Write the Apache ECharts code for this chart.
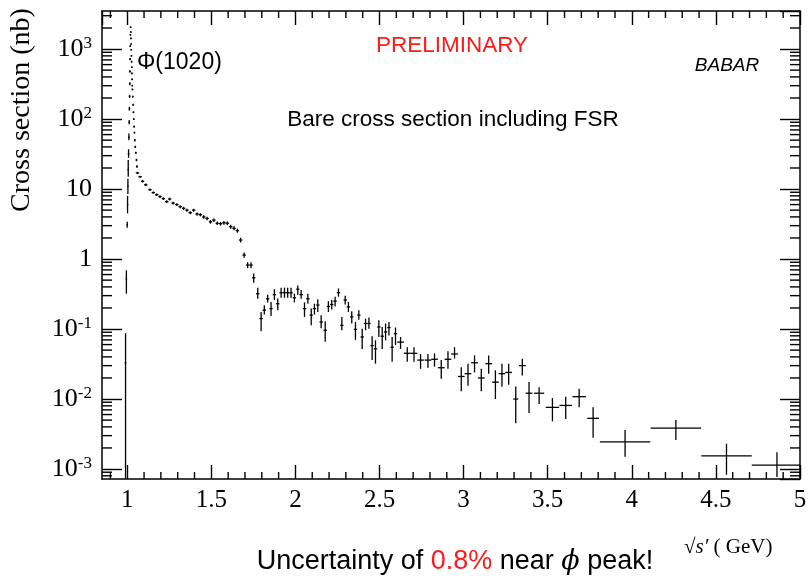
<!DOCTYPE html>
<html><head><meta charset="utf-8">
<script src="https://cdn.jsdelivr.net/npm/echarts@6/dist/echarts.min.js"></script>
<style>html,body{margin:0;padding:0;background:#fff}#c{width:810px;height:578px}</style>
</head><body><div id="c"></div><script>
// ---- data ----
// phi(1020) region
const phiEnergy = [0.990,0.995,1.000,1.002,1.004,1.006,1.008,1.010,1.012,1.013,1.014,1.015,1.016,1.017,1.018,1.019,1.020,1.021,1.022,1.023,1.024,1.025,1.026,1.027,1.028,1.029,1.030,1.031,1.033,1.035,1.037,1.039,1.041,1.043,1.045,1.048,1.051,1.055,1.058];
const phiHalfWidth = [0.002,0.002,0.001,0.001,0.001,0.001,0.001,0.001,0.001,0.001,0.001,0.001,0.001,0.001,0.001,0.001,0.001,0.001,0.001,0.001,0.001,0.001,0.001,0.001,0.001,0.001,0.001,0.001,0.001,0.001,0.001,0.001,0.001,0.001,0.001,0.001,0.001,0.001,0.001];
const phiSigma = [0.033,0.52,3.1,6,11,19,32,55,90,140,210,320,480,720,1100,1600,2050,1750,1420,1180,980,800,660,550,450,370,300,265,210,160,125,100,78,64,50,40,33,26,21];
const phiSigmaLo = [0.000001,0.32,2.8,4.5,8.5,15,28,50,84,132,200,305,460,695,1070,1560,2000,1710,1390,1150,955,780,640,535,437,360,291,257,204,155,121,97,75,62,48,38.5,32,25,20.2];
const phiSigmaHi = [0.087,0.69,3.4,8,14,26,37,62,97,150,222,335,500,745,1130,1640,2100,1790,1450,1210,1005,820,680,565,463,380,309,273,216,165,129,103,81,66,52,41.5,34,27,21.8];

// continuum region
const energy = [1.061,1.077,1.091,1.110,1.135,1.155,1.175,1.195,1.215,1.235,1.252,1.273,1.295,1.315,1.335,1.355,1.375,1.395,1.415,1.435,1.455,1.475,1.495,1.515,1.535,1.555,1.575,1.595,1.615,1.635,1.655,1.674,1.695,1.716,1.736,
 1.752,1.776,1.796,1.815,1.835,1.855,1.875,1.895,1.915,1.935,1.954,1.974,1.994,2.014,2.034,2.054,2.074,2.094,2.113,2.133,2.153,2.177,2.196,2.216,2.236,2.256,2.276,2.296,2.315,2.335,2.357,2.377,2.397,2.417,2.437,2.456,2.476,2.496,2.516,2.536,2.556,2.575,2.595,
 2.625,2.665,2.705,2.744,2.788,2.827,2.867,2.907,2.946,2.986,3.026,3.065,3.105,3.149,3.189,3.228,3.268,3.310,3.349,
 3.389,3.449,3.528,3.607,3.687,3.770,3.960,4.262,4.563,4.863];
const halfWidth = [0.01,0.01,0.01,0.01,0.01,0.01,0.01,0.01,0.01,0.01,0.01,0.01,0.01,0.01,0.01,0.01,0.01,0.01,0.01,0.01,0.01,0.01,0.01,0.01,0.01,0.01,0.01,0.01,0.01,0.01,0.01,0.01,0.01,0.01,0.01,
 0.01,0.01,0.01,0.01,0.01,0.01,0.01,0.01,0.01,0.01,0.01,0.01,0.01,0.01,0.01,0.01,0.01,0.01,0.01,0.01,0.01,0.01,0.01,0.01,0.01,0.01,0.01,0.01,0.01,0.01,0.01,0.01,0.01,0.01,0.01,0.01,0.01,0.01,0.01,0.01,0.01,0.01,0.01,
 0.02,0.02,0.02,0.02,0.02,0.02,0.02,0.02,0.02,0.02,0.02,0.02,0.02,0.02,0.02,0.02,0.02,0.015,0.02,
 0.02,0.03,0.04,0.037,0.04,0.035,0.15,0.15,0.15,0.15];
const sigma = [17,15,12.9,11.5,9.8,8.9,8.3,7.8,7.3,6.6,7.2,6.3,6.0,5.6,5.3,5.0,4.6,5.0,4.4,4.3,4.0,3.8,3.4,3.6,3.25,3.2,3.3,3.25,2.9,2.75,2.55,1.87,1.14,0.82,0.82,
 0.54,0.32,0.141,0.186,0.27,0.196,0.31,0.23,0.33,0.33,0.33,0.33,0.28,0.37,0.31,0.196,0.27,0.158,0.196,0.22,0.126,0.096,0.21,0.224,0.25,0.33,0.113,0.26,0.207,0.149,0.099,0.158,0.077,0.12,0.12,0.058,0.052,0.107,0.079,0.091,0.105,0.055,0.086,
 0.065,0.045,0.045,0.036,0.036,0.037,0.028,0.037,0.044,0.021,0.023,0.033,0.020,0.032,0.0174,0.023,0.024,0.010,0.030,
 0.0121,0.0121,0.0076,0.0081,0.0108,0.0053,0.00245,0.00385,0.00154,0.00114];
const sigmaLo = [16.4,14.5,12.4,11.0,9.4,8.55,7.95,7.45,6.98,6.3,6.87,6.0,5.72,5.33,5.04,4.75,4.37,4.75,4.17,4.07,3.78,3.59,3.2,3.39,3.06,3.01,3.1,3.05,2.72,2.57,2.38,1.73,1.04,0.74,0.74,
 0.46,0.27,0.093,0.161,0.24,0.154,0.26,0.186,0.28,0.28,0.28,0.28,0.24,0.31,0.27,0.149,0.23,0.113,0.161,0.175,0.103,0.066,0.175,0.19,0.21,0.29,0.096,0.224,0.175,0.12,0.07,0.136,0.052,0.096,0.101,0.036,0.032,0.077,0.052,0.069,0.081,0.034,0.059,
 0.052,0.034,0.034,0.027,0.028,0.029,0.0195,0.027,0.038,0.0129,0.0155,0.024,0.0129,0.023,0.0100,0.015,0.016,0.0045,0.0217,
 0.0063,0.0085,0.0048,0.0052,0.0076,0.0028,0.0015,0.0026,0.00083,0.00077];
const sigmaHi = [17.6,15.5,13.4,12.0,10.2,9.25,8.65,8.15,7.62,6.9,7.53,6.6,6.28,5.87,5.56,5.25,4.83,5.25,4.63,4.53,4.22,4.01,3.6,3.81,3.44,3.39,3.5,3.45,3.08,2.93,2.72,2.01,1.24,0.9,0.9,
 0.62,0.39,0.175,0.219,0.31,0.244,0.37,0.273,0.39,0.39,0.39,0.39,0.32,0.42,0.36,0.24,0.32,0.196,0.23,0.267,0.158,0.129,0.25,0.26,0.29,0.38,0.149,0.30,0.244,0.18,0.126,0.186,0.101,0.141,0.146,0.079,0.069,0.133,0.107,0.12,0.126,0.077,0.105,
 0.077,0.055,0.055,0.044,0.044,0.045,0.036,0.048,0.055,0.0285,0.032,0.042,0.027,0.042,0.0257,0.032,0.032,0.0151,0.0376,
 0.0175,0.0147,0.0103,0.0108,0.0140,0.0076,0.0036,0.0050,0.0023,0.00173];

// axes
const xMin = 0.85, xMax = 5.0;
const yMin = 0.00072, yMax = 3500;
const xTickLabels = ['1','1.5','2','2.5','3','3.5','4','4.5','5'];
const xMinorTicks = [0.9,1.1,1.2,1.3,1.4,1.6,1.7,1.8,1.9,2.1,2.2,2.3,2.4,2.6,2.7,2.8,2.9,3.1,3.2,3.3,3.4,3.6,3.7,3.8,3.9,4.1,4.2,4.3,4.4,4.6,4.7,4.8,4.9];
const yMinorTicks = [0.0008,0.0009,0.002,0.003,0.004,0.005,0.006,0.007,0.008,0.009,0.02,0.03,0.04,0.05,0.06,0.07,0.08,0.09,0.2,0.3,0.4,0.5,0.6,0.7,0.8,0.9,2,3,4,5,6,7,8,9,20,30,40,50,60,70,80,90,200,300,400,500,600,700,800,900,2000,3000];

// ---- chart ----
const points = phiEnergy.map((e,i)=>[e, phiSigma[i], e-phiHalfWidth[i], e+phiHalfWidth[i], phiSigmaLo[i], phiSigmaHi[i]])
  .concat(energy.map((e,i)=>[e, sigma[i], e-halfWidth[i], e+halfWidth[i], sigmaLo[i], sigmaHi[i]]));

const chart = echarts.init(document.getElementById('c'), null, {renderer:'canvas'});
const serif = '"Liberation Serif", "Times New Roman", serif';
const sans = '"Liberation Sans", Arial, sans-serif';
const LW = 1.4;
function ln(x1,y1,x2,y2,w){return {type:'line',shape:{x1,y1,x2,y2},style:{stroke:'#000',lineWidth:w||LW}};}

function yLabel(v){
  const l = Math.log10(v), e = Math.round(l);
  if (Math.abs(l-e) > 1e-6) return '';
  if (e === 0) return '1';
  if (e === 1) return '10';
  return '{b|10}{s|' + e + '}';
}
const axisCommon = {
  axisLine:{show:true, onZero:false, lineStyle:{color:'#000', width:1.5}},
  splitLine:{show:false}
};

chart.setOption({
  animation:false,
  backgroundColor:'#fff',
  grid:{left:102, top:11, width:698, height:468, containLabel:false},
  xAxis:[
    Object.assign({type:'value', min:xMin, max:xMax, splitNumber:8, position:'bottom',
      axisTick:{show:true, inside:true, length:14, lineStyle:{color:'#000', width:LW}},
      axisLabel:{show:true, margin:9, color:'#000', fontFamily:serif, fontSize:25, showMinLabel:false, showMaxLabel:true,
        formatter:(v)=>{const s = String(Math.round(v*10)/10); return xTickLabels.indexOf(s)>=0 ? s : '';}}}, axisCommon),
    Object.assign({type:'value', min:xMin, max:xMax, splitNumber:8, position:'top',
      axisTick:{show:true, inside:true, length:14, lineStyle:{color:'#000', width:LW}},
      axisLabel:{show:false}}, axisCommon)
  ],
  yAxis:[
    Object.assign({type:'log', logBase:10, min:yMin, max:yMax, position:'left',
      axisTick:{show:true, inside:true, length:20, lineStyle:{color:'#000', width:LW}},
      axisLabel:{show:true, margin:10, color:'#000', fontFamily:serif, fontSize:26, showMinLabel:false, showMaxLabel:false,
        formatter:yLabel,
        rich:{b:{fontFamily:serif, fontSize:26, color:'#000', lineHeight:28},
              s:{fontFamily:serif, fontSize:17, color:'#000', lineHeight:17, verticalAlign:'top'}}}}, axisCommon),
    Object.assign({type:'log', logBase:10, min:yMin, max:yMax, position:'right',
      axisTick:{show:true, inside:true, length:20, lineStyle:{color:'#000', width:LW}},
      axisLabel:{show:false}}, axisCommon)
  ],
  series:[
    {type:'custom', name:'xminor', silent:true, xAxisIndex:0, yAxisIndex:0,
      data:xMinorTicks.map(v=>[v,1]),
      renderItem:(params, api)=>{
        const cs = params.coordSys; const px = api.coord([api.value(0),1])[0];
        const b = cs.y+cs.height, t = cs.y;
        return {type:'group', children:[ln(px,b,px,b-7), ln(px,t,px,t+7)]};
      }},
    {type:'custom', name:'yminor', silent:true, xAxisIndex:0, yAxisIndex:0,
      data:yMinorTicks.map(v=>[1,v]),
      renderItem:(params, api)=>{
        const cs = params.coordSys; const py = api.coord([1, api.value(1)])[1];
        const l = cs.x, r = cs.x+cs.width;
        return {type:'group', children:[ln(l,py,l+10,py), ln(r,py,r-10,py)]};
      }},
    {type:'custom', name:'data', silent:true, clip:true, xAxisIndex:0, yAxisIndex:0,
      data:points,
      encode:{x:[0,2,3], y:[1,4,5]},
      renderItem:(params, api)=>{
        const x = api.value(0), y = api.value(1);
        const c = api.coord([x,y]);
        let xl = api.coord([api.value(2),y])[0], xr = api.coord([api.value(3),y])[0];
        let yb = api.coord([x,api.value(4)])[1], yt = api.coord([x,api.value(5)])[1];
        if (xr - xl < 1.6) { xl = c[0]-0.8; xr = c[0]+0.8; }
        if (yb - yt < 1.6) { yb = c[1]+0.8; yt = c[1]-0.8; }
        return {type:'group', children:[ln(xl,c[1],xr,c[1],1.3), ln(c[0],yb,c[0],yt,1.3)]};
      }}
  ],
  graphic:[
    {type:'text', x:22, y:110, rotation:Math.PI/2, style:{text:'Cross section (nb)', font:'28px ' + serif, fill:'#000', align:'center', verticalAlign:'middle'}},
    {type:'text', x:452, y:46, style:{text:'PRELIMINARY', font:'22.5px ' + sans, fill:'#ff1a1a', align:'center', verticalAlign:'middle'}},
    {type:'text', x:727, y:66, style:{text:'BABAR', font:'italic 19px ' + sans, fill:'#000', align:'center', verticalAlign:'middle'}},
    {type:'text', x:137, y:63, style:{text:'Φ(1020)', font:'23px ' + sans, fill:'#000', align:'left', verticalAlign:'middle'}},
    {type:'text', x:453, y:120, style:{text:'Bare cross section including FSR', font:'22.5px ' + sans, fill:'#000', align:'center', verticalAlign:'middle'}},
    {type:'text', x:684, y:547, style:{text:'{r|√}{i|s′}{r| ( GeV)}', align:'left', verticalAlign:'middle',
      rich:{r:{font:'21px ' + serif, fill:'#000'}, i:{font:'italic 21px ' + serif, fill:'#000'}}}},
    {type:'text', x:455, y:562, style:{text:'{a|Uncertainty of }{red|0.8%}{a| near }{phi|ϕ}{a| peak!}', align:'center', verticalAlign:'middle',
      rich:{a:{font:'27px ' + sans, fill:'#000'}, red:{font:'27px ' + sans, fill:'#ff1a1a'}, phi:{font:'italic 27px "DejaVu Serif", serif', fill:'#000'}}}}
  ]
});
</script></body></html>
